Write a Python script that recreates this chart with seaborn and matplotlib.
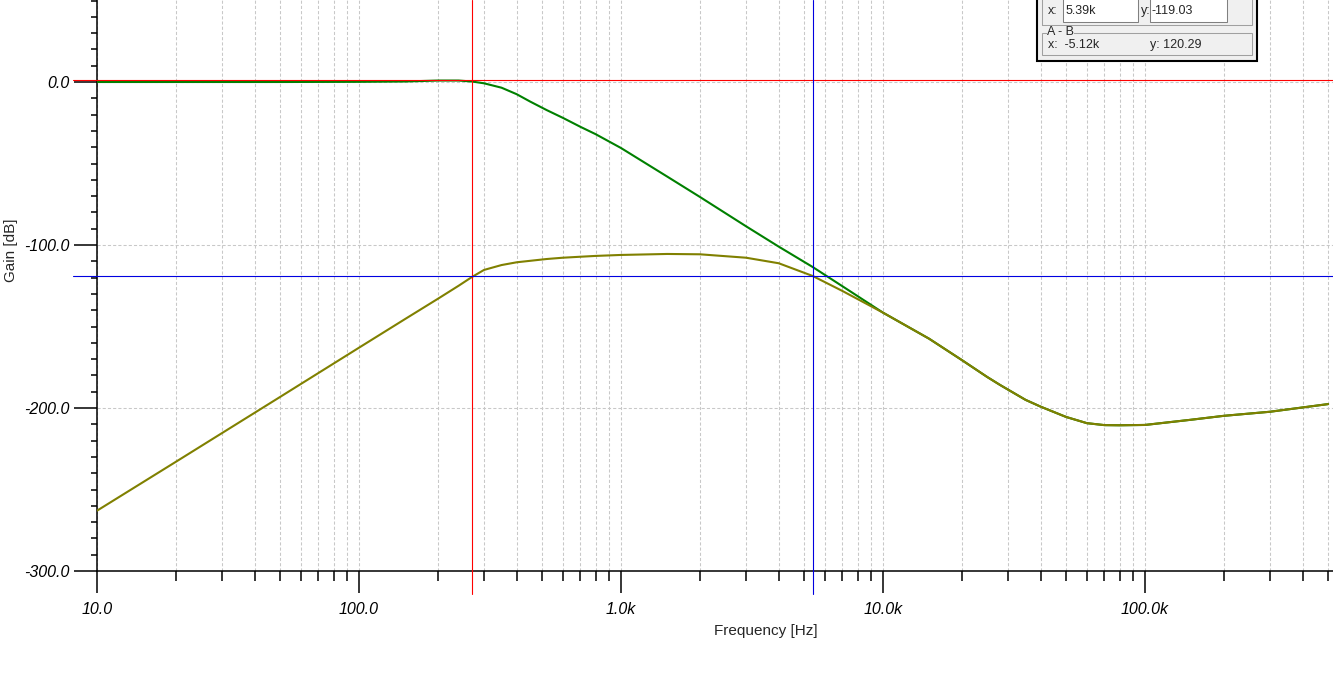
import matplotlib
matplotlib.use("Agg")
import numpy as np
import pandas as pd
import matplotlib.pyplot as plt
import matplotlib.transforms as mtransforms
from matplotlib.patches import Rectangle
from matplotlib.ticker import FixedLocator, FixedFormatter, MultipleLocator
import seaborn as sns

# data (frequency in Hz, gain in dB)
freq = [10, 20, 50, 100, 150, 200, 240, 270, 300, 350, 400, 450, 520, 600, 700, 800,
        1000, 1500, 2000, 3000, 4000, 5390, 7000, 10000, 15000, 20000, 25000, 28000,
        35000, 40000, 50000, 60000, 70000, 80000, 100000, 150000, 200000, 300000,
        500000]
gain_green = [0.0, 0.0, 0.0, 0.1, 0.3, 0.9, 0.9, 0.3, -0.8, -3.5, -7.5, -12.0, -17.2,
              -22.0, -27.5, -32.0, -40.5, -58.0, -70.5, -88.5, -101.0, -113.5, -125.3,
              -141.5, -157.5, -170.6, -181.0, -185.9, -195.0, -199.2, -205.5, -209.3,
              -210.5, -210.6, -210.4, -207.2, -204.8, -202.3, -197.6]
gain_olive = [-263.0, -233.0, -193.2, -163.0, -145.4, -133.0, -125.0, -119.6, -115.3,
              -112.3, -110.6, -109.7, -108.6, -107.8, -107.2, -106.7, -106.1, -105.5,
              -105.7, -107.8, -111.2, -119.0, -128.2, -141.5, -157.5, -170.6, -181.0,
              -185.9, -195.0, -199.2, -205.5, -209.3, -210.5, -210.6, -210.4, -207.2,
              -204.8, -202.3, -197.6]

cursor_a = (270, 1.26)
cursor_b = (5390, -119.03)
readout_b = ("5.39k", "-119.03")
readout_ab = ("-5.12k", "120.29")

x_major = [10, 100, 1000, 10000, 100000]
x_labels = ["10.0", "100.0", "1.0k", "10.0k", "100.0k"]
x_minor = [m * 10 ** d for d in range(1, 6) for m in range(2, 10)]
y_major = [0, -100, -200, -300]
y_labels = ["0.0", "-100.0", "-200.0", "-300.0"]

df = pd.DataFrame({"freq": freq, "green": gain_green, "olive": gain_olive})

sns.set_style("white")
plt.rcParams["font.family"] = ["Liberation Sans", "DejaVu Sans"]
plt.rcParams["axes.unicode_minus"] = False

W, H = 1333, 688
fig = plt.figure(figsize=(W / 100, H / 100), dpi=100)
ax = fig.add_axes([97 / W, (H - 571) / H, (W - 97) / W, 571 / H])
ax.set_xscale("log")

sns.lineplot(data=df, x="freq", y="green", ax=ax, color="#008000", lw=1.5,
             estimator=None, sort=False, zorder=3)
sns.lineplot(data=df, x="freq", y="olive", ax=ax, color="#808000", lw=1.5,
             estimator=None, sort=False, zorder=4)

ax.set_xlim(10, 10 ** (1 + (W - 97) / 262))
ax.set_ylim(-300, 82 / 1.63)

ax.xaxis.set_major_locator(FixedLocator(x_major))
ax.xaxis.set_major_formatter(FixedFormatter(x_labels))
ax.xaxis.set_minor_locator(FixedLocator(x_minor))
ax.xaxis.set_minor_formatter(FixedFormatter([]))
ax.yaxis.set_major_locator(FixedLocator(y_major))
ax.yaxis.set_major_formatter(FixedFormatter(y_labels))
ax.yaxis.set_minor_locator(MultipleLocator(10))

ax.tick_params(axis="x", which="both", bottom=True, top=False)
ax.tick_params(axis="y", which="both", left=True, right=False)
ax.tick_params(axis="x", which="major", direction="out", length=16, width=1.1,
               pad=6.5, labelsize=11.5, colors="black")
ax.tick_params(axis="x", which="minor", direction="out", length=7.2, width=1.1,
               colors="black")
ax.tick_params(axis="y", which="major", direction="out", length=16.6, width=1.1,
               pad=3, labelsize=11.5, colors="black")
ax.tick_params(axis="y", which="minor", direction="out", length=4.3, width=1.1,
               colors="black")
plt.setp(ax.get_xticklabels() + ax.get_yticklabels(), style="italic")

ax.grid(which="both", axis="x", color="#c8c8c8", ls=(0, (3, 2)), lw=0.75)
ax.grid(which="major", axis="y", color="#c8c8c8", ls=(0, (3, 2)), lw=0.75)
ax.set_axisbelow(True)

for side in ["top", "right"]:
    ax.spines[side].set_visible(False)
for side in ["left", "bottom"]:
    ax.spines[side].set_linewidth(1.1)
    ax.spines[side].set_color("black")

ax.set_xlabel("Frequency [Hz]", fontsize=11)
ax.xaxis.set_label_coords((766 - 97) / (W - 97), -(631 - 571) / 571)
ax.xaxis.label.set_verticalalignment("center")
ax.set_ylabel("Gain [dB]", fontsize=11)
ax.yaxis.set_label_coords(-(97 - 11) / (W - 97), (571 - 250) / 571)
ax.yaxis.label.set_verticalalignment("center")

# cursors
ty = mtransforms.blended_transform_factory(ax.transAxes, ax.transData)
tx = mtransforms.blended_transform_factory(ax.transData, ax.transAxes)
for (cx, cy), col in [(cursor_a, "#ff0000"), (cursor_b, "#0000e0")]:
    ax.plot([-24 / (W - 97), 1], [cy, cy], transform=ty, color=col, lw=0.8,
            clip_on=False, zorder=5)
    ax.plot([cx, cx], [-23 / 571, 1], transform=tx, color=col, lw=0.8,
            clip_on=False, zorder=5)


# cursor read-out box (top right)
def px_rect(x0, y0, x1, y1, **kw):
    fig.add_artist(Rectangle((x0 / W, 1 - y1 / H), (x1 - x0) / W, (y1 - y0) / H,
                             transform=fig.transFigure, **kw))


def px_text(x, y, s, **kw):
    fig.text(x / W, 1 - y / H, s, va="center", ha="left", fontsize=9, **kw)


px_rect(1037, -10, 1257, 61, fc="#f0f0f0", ec="black", lw=1.5, zorder=10)
px_rect(1042, -10, 1252, 25, fc="none", ec="#a0a0a0", lw=0.75, zorder=11)
px_rect(1063, -5, 1138, 22, fc="white", ec="#808080", lw=0.75, zorder=11)
px_rect(1150, -5, 1227, 22, fc="white", ec="#808080", lw=0.75, zorder=11)
px_text(1048, 11, "x:", zorder=12)
px_text(1066, 11, readout_b[0], zorder=12)
px_text(1141, 11, "y:", zorder=12)
px_text(1152, 11, readout_b[1], zorder=12)
px_rect(1042, 33, 1252, 54.5, fc="none", ec="#a0a0a0", lw=0.75, zorder=11)
px_text(1047, 32, "A - B", zorder=12,
        bbox=dict(fc="#f0f0f0", ec="none", pad=0.3))
px_text(1048, 45, "x:  " + readout_ab[0], zorder=12)
px_text(1150, 45, "y: " + readout_ab[1], zorder=12)

fig.savefig("out.png", dpi=100, facecolor="white")
